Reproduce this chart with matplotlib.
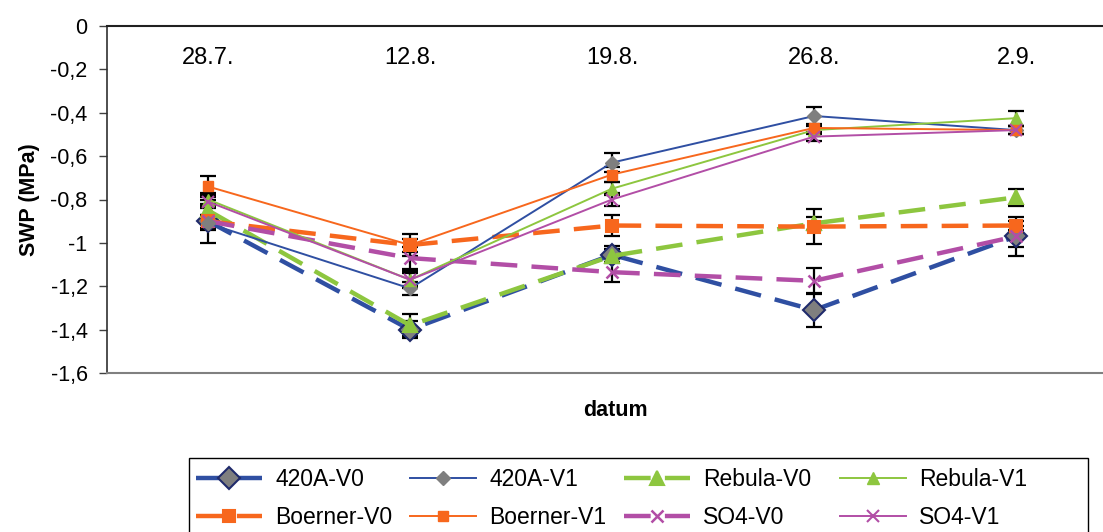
import matplotlib
matplotlib.use("Agg")
import matplotlib.pyplot as plt
from matplotlib.patches import Rectangle
from matplotlib.ticker import FuncFormatter

plt.rcParams['font.family'] = ['Liberation Sans', 'DejaVu Sans']

dates = ["28.7.", "12.8.", "19.8.", "26.8.", "2.9."]

# SWP (MPa)
a420_v0 = [-0.90, -1.40, -1.055, -1.31, -0.97]
a420_v1 = [-0.91, -1.21, -0.63, -0.415, -0.48]
rebula_v0 = [-0.85, -1.38, -1.06, -0.91, -0.79]
rebula_v1 = [-0.80, -1.17, -0.75, -0.48, -0.425]
boerner_v0 = [-0.90, -1.01, -0.92, -0.925, -0.92]
boerner_v1 = [-0.74, -1.01, -0.685, -0.47, -0.48]
so4_v0 = [-0.90, -1.07, -1.135, -1.175, -0.97]
so4_v1 = [-0.81, -1.17, -0.80, -0.51, -0.48]

# error bars
a420_v0_err = [0.10, 0.04, 0.04, 0.08, 0.05]
a420_v1_err = [0.03, 0.03, 0.045, 0.04, 0.02]
rebula_v0_err = [0.03, 0.05, 0.03, 0.03, 0.04]
rebula_v1_err = [0.03, 0.04, 0.03, 0.02, 0.035]
boerner_v0_err = [0.03, 0.05, 0.05, 0.08, 0.02]
boerner_v1_err = [0.05, 0.03, 0.035, 0.02, 0.02]
so4_v0_err = [0.03, 0.05, 0.045, 0.06, 0.09]
so4_v1_err = [0.03, 0.03, 0.03, 0.02, 0.02]

blue = "#2f4fa2"
green = "#8dc63f"
orange = "#f7671d"
magenta = "#b24ea6"
gray = "#7f7f7f"

series = [
    ("420A-V0", a420_v0, a420_v0_err, blue, True, "D", gray, "#1f2a6b", 11),
    ("420A-V1", a420_v1, a420_v1_err, blue, False, "D", gray, gray, 7),
    ("Rebula-V0", rebula_v0, rebula_v0_err, green, True, "^", green, green, 10),
    ("Rebula-V1", rebula_v1, rebula_v1_err, green, False, "^", green, green, 8),
    ("Boerner-V0", boerner_v0, boerner_v0_err, orange, True, "s", orange, orange, 8.5),
    ("Boerner-V1", boerner_v1, boerner_v1_err, orange, False, "s", orange, orange, 7.5),
    ("SO4-V0", so4_v0, so4_v0_err, magenta, True, "x", magenta, magenta, 9),
    ("SO4-V1", so4_v1, so4_v1_err, magenta, False, "x", magenta, magenta, 9),
]

fig = plt.figure(figsize=(11.03, 5.32), dpi=100)
# plot area runs past the right edge of the picture
ax = fig.add_axes([107 / 1103, 1 - 373 / 532, 1010 / 1103, 347 / 532])

x = list(range(len(dates)))
handles = {}
for name, vals, err, col, v0, mk, fc, ec, ms in series:
    ax.errorbar(x, vals, yerr=err, fmt="none", ecolor="black", elinewidth=1.6,
                capsize=5.5, capthick=1.6, zorder=2)
    if v0:
        ln, = ax.plot(x, vals, color=col, lw=3.2, dashes=(6, 3.2), marker=mk,
                      markersize=ms, markerfacecolor=fc, markeredgecolor=ec,
                      markeredgewidth=1.5 if mk != "x" else 1.8, zorder=3)
    else:
        ln, = ax.plot(x, vals, color=col, lw=1.4, marker=mk, markersize=ms,
                      markerfacecolor=fc, markeredgecolor=ec,
                      markeredgewidth=1.0 if mk != "x" else 1.5, zorder=4)
    handles[name] = ln

ax.set_xlim(-0.5, 4.5)
ax.set_ylim(-1.6, 0)
ax.set_yticks([0, -0.2, -0.4, -0.6, -0.8, -1.0, -1.2, -1.4, -1.6])
ax.yaxis.set_major_formatter(FuncFormatter(lambda v, p: ("%g" % round(v, 1)).replace(".", ",")))
ax.tick_params(axis="y", labelsize=15.5, length=6, width=1, color="#404040", pad=8)
ax.set_xticks([])

for i, d in enumerate(dates):
    ax.text(i, -0.148, d, ha="center", va="center", fontsize=17)

ax.spines["top"].set_color("#202020")
ax.spines["top"].set_linewidth(1.5)
ax.spines["left"].set_color("#303030")
ax.spines["left"].set_linewidth(1.2)
ax.spines["bottom"].set_color("#808080")
ax.spines["bottom"].set_linewidth(1.5)
ax.spines["right"].set_visible(False)

fig.text(30 / 1103, 1 - 200 / 532, "SWP (MPa)", rotation=90, ha="center", va="center",
         fontsize=15.5, fontweight="bold")
fig.text(615 / 1103, 1 - 411 / 532, "datum", ha="center", va="center",
         fontsize=15.5, fontweight="bold")

# legend: four equal columns inside one frame, like Excel
fig.patches.append(Rectangle((189 / 1103, -0.05), (1088 - 189) / 1103, 1 - 458 / 532 + 0.05,
                             transform=fig.transFigure, fill=False,
                             edgecolor="black", linewidth=1.0))
columns = [["420A-V0", "Boerner-V0"], ["420A-V1", "Boerner-V1"],
           ["Rebula-V0", "SO4-V0"], ["Rebula-V1", "SO4-V1"]]
col_x = [196, 410, 624, 840]
for names, cx in zip(columns, col_x):
    leg = fig.legend([handles[n] for n in names], names, loc="upper left",
                     bbox_to_anchor=(cx / 1103, 1 - 468 / 532), frameon=False,
                     fontsize=16.5, handlelength=2.9, handletextpad=0.55,
                     borderpad=0, borderaxespad=0, labelspacing=0.64)

fig.savefig("out.png", dpi=100)
